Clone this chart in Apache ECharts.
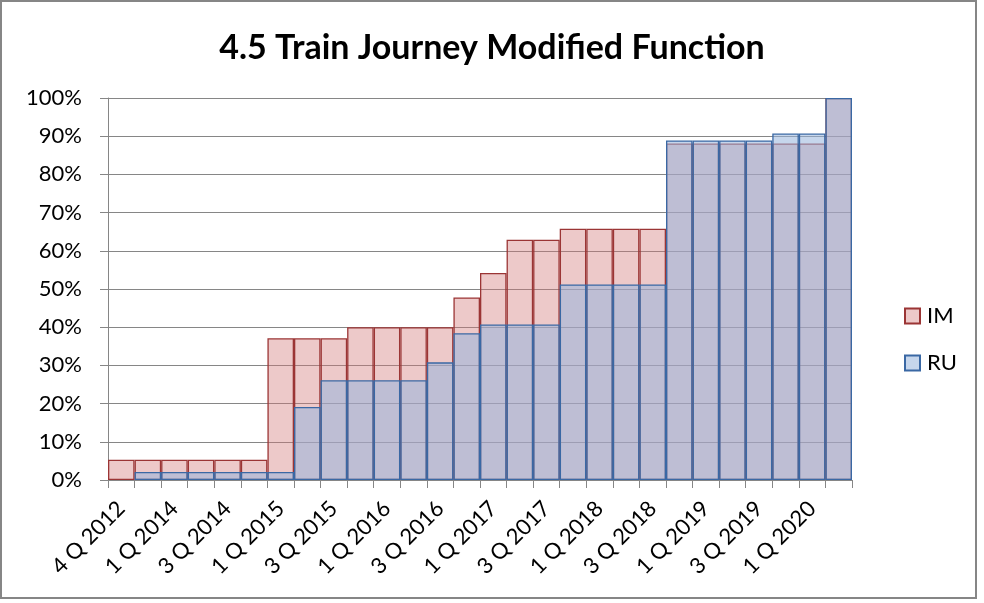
<!DOCTYPE html>
<html>
<head>
<meta charset="utf-8">
<script src="https://cdn.jsdelivr.net/npm/echarts@6/dist/echarts.min.js"></script>
<style>
  html, body { margin: 0; padding: 0; background: #fff; }
  #main { width: 984px; height: 603px; }
</style>
</head>
<body>
<div id="main"></div>
<script>
// quarters on the x axis (second one is hidden by label skipping)
var quarters = [
  '4 Q 2012', '4 Q 2013', '1 Q 2014', '2 Q 2014', '3 Q 2014', '4 Q 2014',
  '1 Q 2015', '2 Q 2015', '3 Q 2015', '4 Q 2015', '1 Q 2016', '2 Q 2016',
  '3 Q 2016', '4 Q 2016', '1 Q 2017', '2 Q 2017', '3 Q 2017', '4 Q 2017',
  '1 Q 2018', '2 Q 2018', '3 Q 2018', '4 Q 2018', '1 Q 2019', '2 Q 2019',
  '3 Q 2019', '4 Q 2019', '1 Q 2020', '2 Q 2020'
];

// percent values (no RU bar in the first quarter)
var imValues = [5.3, 5.3, 5.3, 5.3, 5.3, 5.3, 37.1, 37.1, 37.1, 40, 40, 40, 40, 47.8,
  54.2, 62.9, 62.9, 65.8, 65.8, 65.8, 65.8, 88.1, 88.1, 88.1, 88.1, 88.1, 88.1, 100];
var ruValues = [null, 2.1, 2.1, 2.1, 2.1, 2.1, 2.1, 19.1, 26.1, 26.1, 26.1, 26.1, 30.8, 38.4,
  40.7, 40.7, 40.7, 51.2, 51.2, 51.2, 51.2, 88.9, 88.9, 88.9, 88.9, 90.7, 90.7, 100];

var yTicks = [0, 10, 20, 30, 40, 50, 60, 70, 80, 90, 100];

var font = 'Lato, "Open Sans", sans-serif';
var grey = '#868686';

var chart = echarts.init(document.getElementById('main'));

var option = {
  backgroundColor: '#fff',
  animation: false,
  title: {
    text: '4.5 Train Journey Modified Function',
    left: 'center',
    top: 26,
    textStyle: { fontFamily: font, fontSize: 34, fontWeight: 'bold', color: '#000' }
  },
  legend: {
    orient: 'vertical',
    left: 899,
    top: 300,
    itemGap: 25,
    itemWidth: 15,
    itemHeight: 15,
    icon: 'rect',
    data: ['IM', 'RU'],
    textStyle: { fontFamily: font, fontSize: 22, color: '#000', padding: [0, 0, 0, 2] }
  },
  graphic: [{
    type: 'rect',
    shape: { x: 1, y: 1, width: 975, height: 597 },
    style: { fill: 'none', stroke: grey, lineWidth: 2 },
    silent: true
  }],
  grid: { left: 108, right: 132, top: 98, bottom: 123 },
  xAxis: {
    type: 'category',
    data: quarters,
    axisLine: { lineStyle: { color: grey, width: 1 } },
    axisTick: { show: true, interval: 0, length: 8, lineStyle: { color: grey } },
    axisLabel: {
      interval: 1,
      rotate: 45,
      margin: 25,
      fontFamily: font,
      fontSize: 22,
      color: '#000'
    },
    splitLine: { show: false }
  },
  yAxis: {
    type: 'value',
    min: 0,
    max: yTicks[yTicks.length - 1],
    interval: yTicks[1] - yTicks[0],
    axisLine: { show: true, lineStyle: { color: grey } },
    axisTick: { show: true, length: 8, lineStyle: { color: grey } },
    axisLabel: {
      formatter: '{value}%',
      margin: 26,
      fontFamily: font,
      fontSize: 22,
      color: '#000'
    },
    splitLine: { lineStyle: { color: grey, width: 1 } }
  },
  series: [
    {
      name: 'IM',
      type: 'bar',
      data: imValues,
      barCategoryGap: 0,
      barGap: '-100%',
      itemStyle: {
        color: 'rgba(210,120,120,0.4)',
        borderColor: '#9b3535',
        borderWidth: 1.3
      }
    },
    {
      name: 'RU',
      type: 'bar',
      data: ruValues,
      barCategoryGap: 0,
      barGap: '-100%',
      itemStyle: {
        color: 'rgba(151,180,220,0.55)',
        borderColor: '#3a68a4',
        borderWidth: 1.3
      }
    }
  ]
};

chart.setOption(option);
</script>
</body>
</html>
